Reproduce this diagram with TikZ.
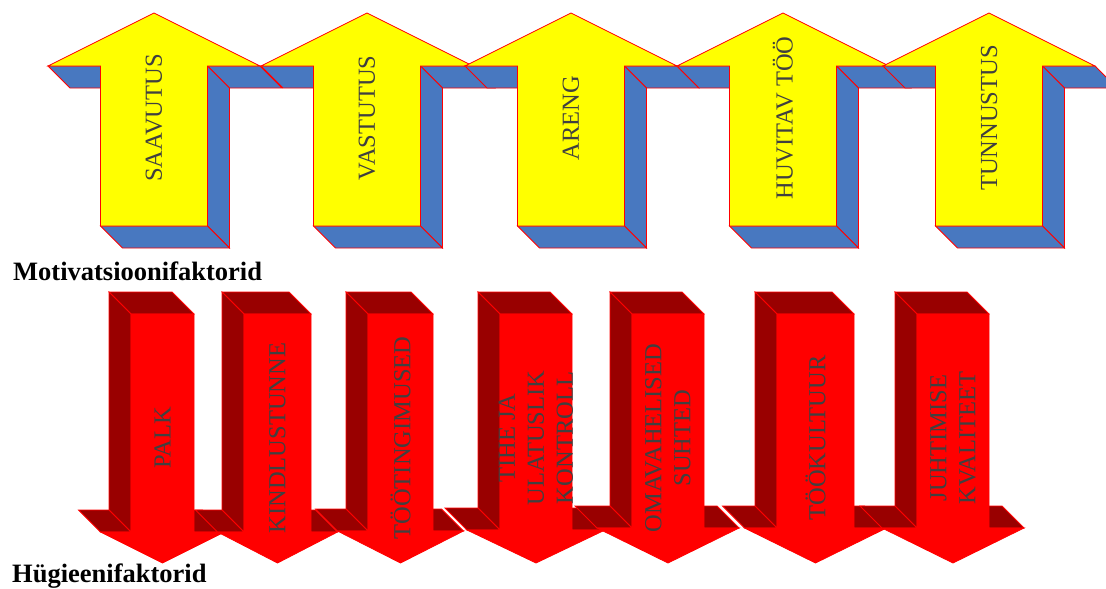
\documentclass[tikz,border=0pt]{standalone}
\usepackage{fontspec}
\setmainfont{Liberation Serif}
\definecolor{arrowyellow}{RGB}{255,255,0}
\definecolor{sideblue}{RGB}{72,120,192}
\definecolor{frontred}{RGB}{255,0,0}
\definecolor{sidered}{RGB}{153,0,0}
\definecolor{labelgray}{RGB}{64,64,64}
\tikzset{
  upface/.style={fill=arrowyellow,draw=frontred,line width=0.8pt,line join=miter},
  upside/.style={fill=sideblue,draw=frontred,line width=0.8pt},
  downface/.style={fill=frontred,draw=frontred,line width=0.8pt},
  downside/.style={fill=sidered,draw=frontred,line width=0.8pt},
  arrowlabel/.style={rotate=90,align=center,text=labelgray,
    font=\fontsize{24.5}{29}\selectfont,inner sep=0pt},
  titlelabel/.style={anchor=base west,inner sep=0pt,
    font=\fontsize{26.5}{30}\selectfont\bfseries}
}
% up arrow: #1 centre x, #2 node name, #3 label
\newcommand\MyUpArrow[3]{%
  \begin{scope}[shift={(#1,0)}]
    \path[upside] (-106,66) -- (-53.5,66) -- (-31.5,88) -- (-84,88) -- cycle;
    \path[upside] (53.5,66) -- (106,66) -- (128,88) -- (75.5,88) -- cycle;
    \path[upside] (53.5,66) -- (53.5,226) -- (75.5,248) -- (75.5,88) -- cycle;
    \path[upside] (-53.5,226) -- (53.5,226) -- (75.5,248) -- (-31.5,248) -- cycle;
    \path[upface] (0,13) -- (106,66) -- (53.5,66) -- (53.5,226) -- (-53.5,226)
      -- (-53.5,66) -- (-106,66) -- cycle;
    \node[arrowlabel] (#2) at (0,118) {#3};
  \end{scope}}
% down arrow: #1 centre x, #2 shaft half width, #3 head half width,
% #4 head base y, #5 node name, #6 label
\newcommand\MyDownArrow[6]{%
  \begin{scope}[shift={(#1,0)}]
    \pgfmathsetmacro\sa{#2}\pgfmathsetmacro\ha{#3}\pgfmathsetmacro\ba{#4}
    \pgfmathsetmacro\sb{#2+22}\pgfmathsetmacro\hb{#3+22}\pgfmathsetmacro\bb{#4-22}
    \pgfmathsetmacro\sc{#2-22}\pgfmathsetmacro\hc{#3-22}
    \path[downside] (-\sb,292) -- (\sc,292) -- (\sa,314) -- (-\sa,314) -- cycle;
    \path[downside] (-\sb,292) -- (-\sa,314) -- (-\sa,\ba) -- (-\sb,\bb) -- cycle;
    \path[downside] (-\hb,\bb) -- (-\sb,\bb) -- (-\sa,\ba) -- (-\ha,\ba) -- cycle;
    \path[downside] (\sc,\bb) -- (\hc,\bb) -- (\ha,\ba) -- (\sa,\ba) -- cycle;
    \path[downface] (-\sa,314) -- (\sa,314) -- (\sa,\ba) -- (\ha,\ba) -- (0,563)
      -- (-\ha,\ba) -- (-\sa,\ba) -- cycle;
    \node[arrowlabel] (#5) at (0,438) {#6};
  \end{scope}}
\begin{document}
\begin{tikzpicture}[x=1pt,y=-1pt]
\useasboundingbox (0,0) rectangle (1106,589);
\MyUpArrow{154}{saavutus}{SAAVUTUS}
\MyUpArrow{367}{vastutus}{VASTUTUS}
\MyUpArrow{571}{areng}{ARENG}
\MyUpArrow{783}{huvitav}{HUVITAV TÖÖ}
\MyUpArrow{989}{tunnustus}{TUNNUSTUS}
\node[titlelabel] (motiv) at (13,280.5) {Motivatsioonifaktorid};
\MyDownArrow{162.5}{31.5}{62}{532}{palk}{PALK}
\MyDownArrow{277.5}{33.5}{60}{532}{kindlus}{KINDLUSTUNNE}
\MyDownArrow{400.5}{32.5}{63}{531}{tingimused}{TÖÖTINGIMUSED}
\MyDownArrow{536}{36}{69}{530}{kontroll}{TIHE JA\\ULATUSLIK\\KONTROLL}
\MyDownArrow{668}{36}{71}{528}{suhted}{OMAVAHELISED\\SUHTED}
\MyDownArrow{815.5}{38.5}{71}{528}{kultuur}{TÖÖKULTUUR}
\MyDownArrow{953}{36}{71}{528}{juhtimine}{JUHTIMISE\\KVALITEET}
\node[titlelabel] (hygieen) at (12,582) {Hügieenifaktorid};
\end{tikzpicture}
\end{document}
